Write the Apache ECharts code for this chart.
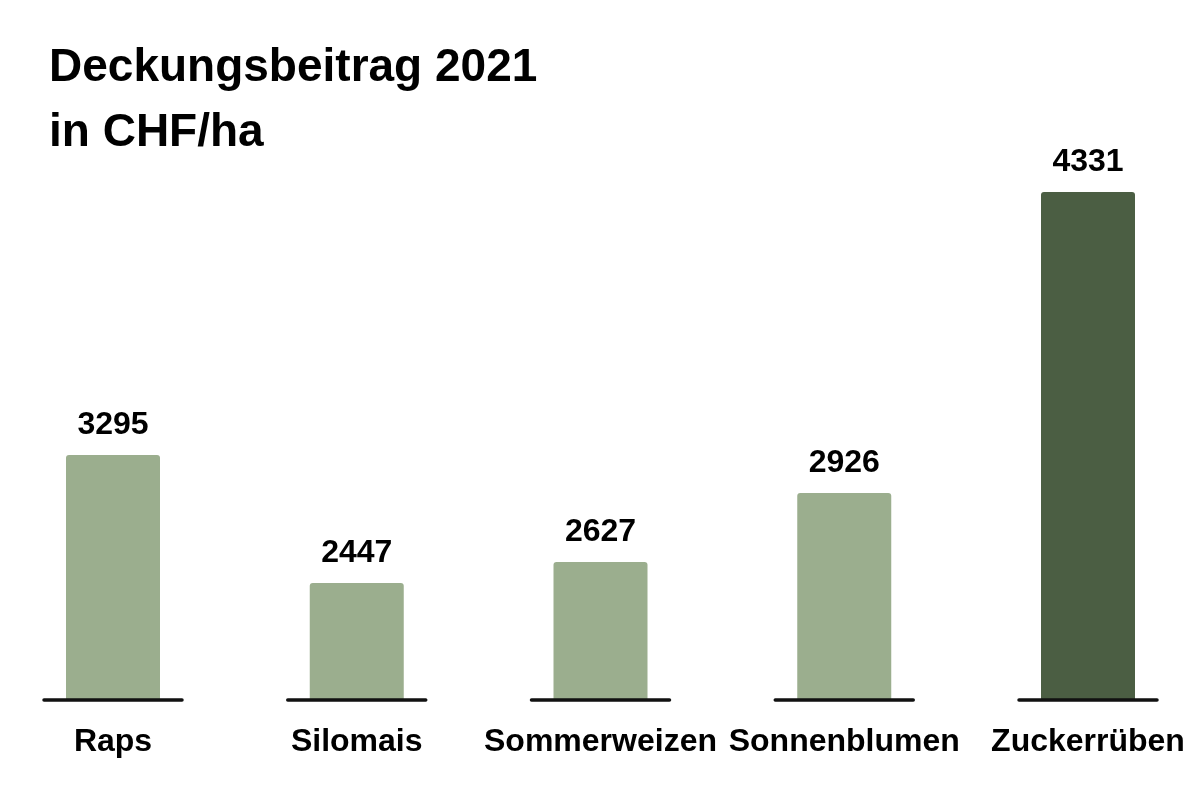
<!DOCTYPE html>
<html>
<head>
<meta charset="utf-8">
<script src="https://cdn.jsdelivr.net/npm/echarts@6/dist/echarts.min.js"></script>
<style>
html,body{margin:0;padding:0;background:#fff;}
#chart{width:1200px;height:799px;}
</style>
</head>
<body>
<div id="chart"></div>
<script>
// Categories and printed values
const categories = ['Raps', 'Silomais', 'Sommerweizen', 'Sonnenblumen', 'Zuckerrüben'];
const values = [3295, 2447, 2627, 2926, 4331];
// Bar heights as drawn in the reference (not to scale with printed values), on the same axis unit
const barHeights = [2089, 997, 1177, 1765, 4331];
const highlight = [false, false, false, false, true];

const LIGHT = '#9bae8e';
const DARK = '#4b5e43';
const FONT = '"Liberation Sans", Arial, sans-serif';

const chart = echarts.init(document.getElementById('chart'), null, {renderer: 'canvas'});

chart.setOption({
  backgroundColor: '#ffffff',
  animation: false,
  title: {
    text: 'Deckungsbeitrag 2021\nin CHF/ha',
    left: 44,
    top: 31,
    textStyle: {
      fontFamily: FONT,
      fontWeight: 'bold',
      fontSize: 46,
      lineHeight: 65,
      color: '#000'
    }
  },
  grid: {left: 113, right: 112, top: 192, bottom: 99},
  xAxis: {
    type: 'category',
    data: categories,
    boundaryGap: false,
    axisLine: {show: false},
    axisTick: {show: false},
    splitLine: {show: false},
    axisLabel: {
      margin: 26,
      fontFamily: FONT,
      fontWeight: 'bold',
      fontSize: 32,
      color: '#000',
      interval: 0
    }
  },
  yAxis: {
    type: 'value',
    min: 0,
    max: 4331,
    show: false,
    splitLine: {show: false}
  },
  series: [
    {
      type: 'bar',
      barWidth: 94,
      data: barHeights.map((h, i) => ({
        value: h,
        itemStyle: {color: highlight[i] ? DARK : LIGHT, borderRadius: [3, 3, 0, 0]}
      })),
      label: {
        show: true,
        position: 'top',
        distance: 14,
        formatter: p => String(values[p.dataIndex]),
        fontFamily: FONT,
        fontWeight: 'bold',
        fontSize: 32,
        color: '#000'
      }
    },
    {
      type: 'custom',
      z: 5,
      data: categories.map((c, i) => [i, 0]),
      renderItem: (params, api) => {
        const p = api.coord([api.value(0), 0]);
        const half = 69;
        return {
          type: 'line',
          shape: {x1: p[0] - half, y1: p[1], x2: p[0] + half, y2: p[1]},
          style: {stroke: '#111', lineWidth: 3.5, lineCap: 'round'}
        };
      },
      silent: true
    }
  ]
});
</script>
</body>
</html>
